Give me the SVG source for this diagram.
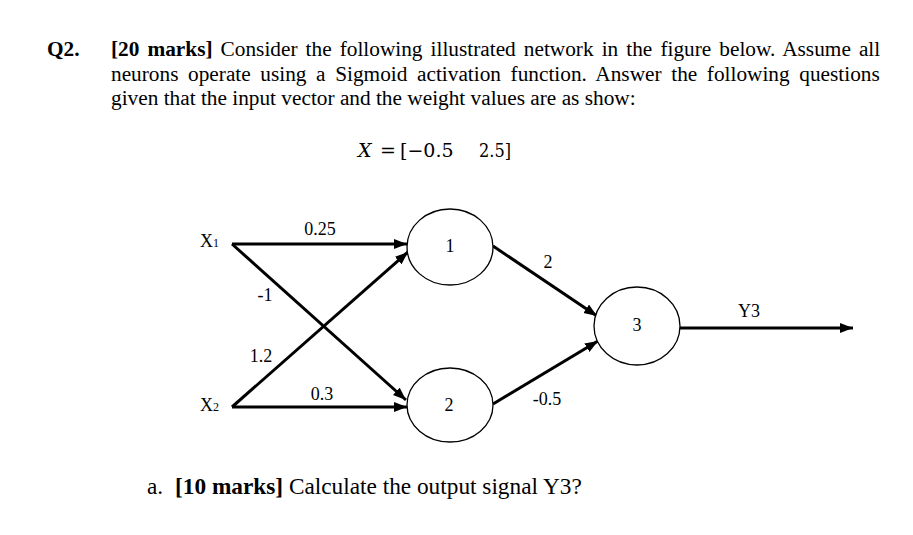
<svg xmlns="http://www.w3.org/2000/svg" width="913" height="535" viewBox="0 0 913 535">
<defs>
<marker id="arr" markerUnits="userSpaceOnUse" markerWidth="14" markerHeight="12" refX="13" refY="5" orient="auto">
<path d="M0,0 L13,5 L0,10 z" fill="#000"/>
</marker>
<style>
.t{font-family:"Liberation Serif","Times New Roman",serif;fill:#000}
.body{font-size:21.3px}
.q{font-size:23.3px}
.b{font-weight:bold}
.lbl{font-size:18px}
.node{fill:#fff;stroke:#000;stroke-width:1.3}
.edge{stroke:#000;stroke-width:3;fill:none;marker-end:url(#arr)}
.eq{font-family:"DejaVu Serif","Liberation Serif",serif;font-size:19px}
</style>
</defs>
<rect width="913" height="535" fill="#fff"/>

<g id="header" class="t body">
<text x="47" y="56" class="b">Q2.</text>
<text x="111" y="56" style="word-spacing:2.75px"><tspan class="b">[20 marks]</tspan> Consider the following illustrated network in the figure below. Assume all</text>
<text x="111" y="80.5" style="word-spacing:4.3px">neurons operate using a Sigmoid activation function. Answer the following questions</text>
<text x="111" y="105">given that the input vector and the weight values are as show:</text>
</g>

<g id="equation" class="t eq">
<text y="157"><tspan x="358" font-style="italic">X</tspan><tspan x="380">=</tspan><tspan x="400">[−0.5</tspan><tspan x="479" textLength="32" lengthAdjust="spacingAndGlyphs">2.5]</tspan></text>
</g>

<g id="connectors">
<line class="edge" x1="232" y1="244" x2="407" y2="244"/>
<line class="edge" x1="232" y1="407" x2="408" y2="252"/>
<line class="edge" x1="232" y1="244" x2="406" y2="400"/>
<line class="edge" x1="232" y1="407" x2="407" y2="407"/>
<line class="edge" x1="493" y1="246" x2="597" y2="316"/>
<line class="edge" x1="493" y1="404" x2="598" y2="341"/>
<line class="edge" x1="680" y1="328" x2="853" y2="328"/>
</g>

<g id="edge-labels" class="t lbl">
<text x="320" y="235" text-anchor="middle">0.25</text>
<text x="265" y="301" text-anchor="middle">-1</text>
<text x="261" y="362" text-anchor="middle">1.2</text>
<text x="322" y="400" text-anchor="middle">0.3</text>
<text x="548" y="268" text-anchor="middle">2</text>
<text x="547" y="405" text-anchor="middle">-0.5</text>
<text x="749" y="317" text-anchor="middle">Y3</text>
</g>

<g id="x1" class="t lbl">
<text x="200" y="247">X<tspan font-size="12">1</tspan></text>
</g>
<g id="x2" class="t lbl">
<text x="200" y="411">X<tspan font-size="12">2</tspan></text>
</g>

<g id="n1">
<ellipse class="node" cx="450" cy="247" rx="43" ry="38"/>
<text class="t lbl" x="450" y="252" text-anchor="middle">1</text>
</g>
<g id="n2">
<ellipse class="node" cx="450" cy="405" rx="43" ry="37"/>
<text class="t lbl" x="449" y="411" text-anchor="middle">2</text>
</g>
<g id="n3">
<ellipse class="node" cx="637" cy="326" rx="43" ry="39"/>
<text class="t lbl" x="637" y="331" text-anchor="middle">3</text>
</g>

<g id="question-a" class="t q">
<text x="147" y="494">a.</text>
<text x="175" y="494"><tspan class="b">[10 marks]</tspan> Calculate the output signal Y3?</text>
</g>
</svg>
